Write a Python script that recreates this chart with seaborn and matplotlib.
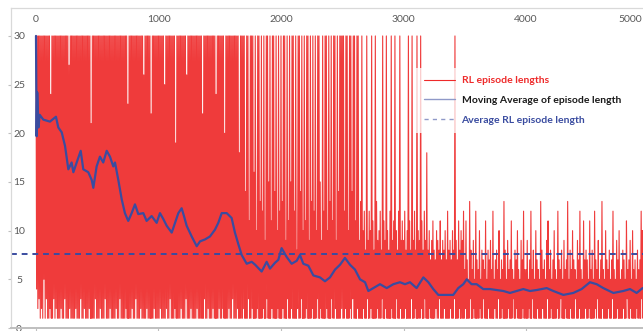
import numpy as np
import pandas as pd
import matplotlib
matplotlib.use("Agg")
import matplotlib.pyplot as plt
from matplotlib.lines import Line2D
import seaborn as sns

# ---------------- data ----------------
# RL episode lengths: for every bin of 10 episodes, the longest and the shortest
# episode seen in the picture (blocks of 500 episodes)
bin_size = 10
mx_0000 = [30,30,30,30,30,30,30,30,30,30, 30,30,24,30,30,30,30,30,30,30,
           30,30,30,30,30,30,30,27,30,30, 30,30,30,30,30,30,30,30,30,30,
           30,30,30,30,30,21,30,30,30,30]
mx_0500 = [30,30,30,30,30,30,30,30,30,30, 30,30,30,30,30,30,30,30,30,30,
           30,30,30,30,30,23,30,30,30,30, 30,30,30,30,30,30,30,30,26,30,
           30,30,30,30,22,30,30,30,30,30]
mx_1000 = [30,30,30,30,30,25,30,30,30,30, 30,30,30,30,19,30,30,30,30,30,
           30,30,30,26,30,30,30,30,30,30, 30,30,30,30,30,30,22,30,30,30,
           30,30,30,30,30,30,30,24,30,30]
mx_1500 = [30,30,30,30,20,30,30,30,30,30, 30,30,30,30,30,30,18,30,30,30,
           30,14,30,30,11,30,30,30,16,30, 10,30,30,13,30,12,30,9,30,30,
           15,30,11,30,30,14,30,10,30,12]
mx_2000 = [30,13,30,30,9,30,11,30,15,30, 30,12,30,8,30,30,14,30,10,30,
           11,30,30,9,30,13,30,12,30,10, 30,30,15,9,30,12,30,30,10,30,
           13,30,11,30,30,9,30,14,30,30]
mx_2500 = [30,30,12,30,30,10,30,30,14,30, 30,11,30,30,9,13,30,10,12,8,
           30,9,12,10,30,11,8,30,13,9, 10,12,8,30,11,9,30,10,8,12,
           30,9,11,30,10,8,12,30,9,11]
mx_3000 = [9,12,8,10,30,11,8,30,9,12, 8,30,10,9,30,11,8,12,9,18,
           8,10,7,9,11,8,7,10,9,8, 11,7,9,8,10,7,12,8,9,7,
           10,8,30,9,7,11,8,10,9,12]
mx_3500 = [6,11,7,5,13,8,6,9,5,12, 7,6,10,5,8,7,6,11,5,8,
           7,9,6,12,5,7,8,6,10,5, 7,6,13,8,5,9,6,7,11,6,
           5,8,7,10,6,5,9,7,12,6]
mx_4000 = [6,9,5,7,12,6,8,5,10,7, 6,5,13,8,6,7,5,9,11,6,
           8,5,7,10,6,5,12,7,6,8, 5,9,6,7,13,5,8,6,10,7,
           6,5,9,7,12,6,5,11,7,8]
mx_4500 = [7,5,11,6,8,5,12,7,6,9, 5,7,13,6,5,10,7,6,8,5,
           7,12,6,5,9,7,10,5,6,8, 7,5,11,6,7,9,5,10,6,7,
           5,8,6,7,12,10,6,8,5,7]

mn_0000 = [4,2,3,1,2,1,5,1,3,1, 1,2,1,1,3,1,2,1,1,1, 2,1,1,3,1,1,1,2,1,1,
           1,1,2,1,1,1,3,1,1,2, 1,1,1,2,1,1,1,1,3,1]
mn_0500 = [1,1,2,1,1,1,3,1,1,1, 2,1,1,1,1,2,1,1,3,1, 1,1,1,2,1,1,1,1,2,1,
           1,3,1,1,1,2,1,1,1,1, 2,1,1,1,1,1,2,1,1,1]
mn_1000 = [1,2,1,1,1,1,2,1,1,3, 1,1,1,2,1,1,1,1,2,1, 1,1,3,1,1,1,2,1,1,1,
           1,2,1,1,1,1,1,3,1,1, 2,1,1,1,2,1,1,1,1,2]
mn_1500 = [1,1,2,1,1,1,1,2,1,1, 3,1,1,1,2,1,1,1,1,2, 1,1,1,3,1,1,2,1,1,1,
           2,1,1,1,1,2,1,1,3,1, 1,1,2,1,1,1,1,2,1,1]
mn_2000 = [1,2,1,1,1,3,1,1,2,1, 1,1,1,2,1,1,3,1,1,1, 2,1,1,1,1,2,1,1,1,3,
           1,1,2,1,1,1,1,2,1,1, 1,3,1,1,2,1,1,1,1,2]
mn_2500 = [1,1,2,1,1,1,2,1,3,1, 1,1,2,1,1,1,1,2,1,1, 3,1,1,2,1,1,1,1,2,1,
           1,1,3,1,1,2,1,1,1,1, 2,1,1,1,3,1,1,2,1,1]
mn_3000 = [1,2,1,1,1,1,3,1,1,2, 1,1,1,1,2,1,1,3,1,1, 1,2,1,1,1,1,2,1,1,3,
           1,1,1,2,1,1,1,1,2,1, 1,3,1,1,1,2,1,1,1,1]
mn_3500 = [2,1,1,1,3,1,1,2,1,1, 1,1,2,1,1,3,1,1,1,2, 1,1,1,1,2,1,1,3,1,1,
           2,1,1,1,1,2,1,1,1,3, 1,1,2,1,1,1,1,2,1,1]
mn_4000 = [1,1,2,1,1,3,1,1,1,2, 1,1,1,2,1,1,1,3,1,1, 2,1,1,1,1,2,1,1,3,1,
           1,1,2,1,1,1,2,1,1,1, 3,1,1,2,1,1,1,1,2,1]
mn_4500 = [1,2,1,1,1,1,2,1,3,1, 1,1,2,1,1,1,1,2,1,1, 3,1,1,1,2,1,1,1,1,2,
           1,1,3,1,1,2,1,1,1,1, 2,1,1,1,3,1,1,2,1,1]

# moving average of the episode length (episode, value)
ma_episode = [0, 5, 10, 20, 30, 60, 114, 163, 182, 210, 237, 264, 291, 305, 332, 365, 386, 427,
              455, 468, 495, 522, 549, 577, 604, 631, 645, 672, 700, 726, 753, 781, 808, 835,
              876, 903, 944, 985, 1012, 1039, 1067, 1108, 1135, 1162, 1189, 1208, 1230, 1271,
              1312, 1339, 1380, 1420, 1461, 1488, 1516, 1557, 1597, 1624, 1652, 1679, 1720,
              1761, 1789, 1842, 1883, 1910, 1951, 1978, 2005, 2046, 2087, 2128, 2155, 2182,
              2223, 2264, 2318, 2359, 2400, 2441, 2482, 2522, 2563, 2604, 2645, 2686, 2713,
              2754, 2808, 2863, 2917, 2971, 3012, 3053, 3107, 3162, 3203, 3243, 3284, 3352,
              3406, 3447, 3488, 3516, 3556, 3597, 3651, 3706, 3760, 3815, 3869, 3924, 3978,
              4032, 4087, 4169, 4223, 4305, 4386, 4454, 4522, 4577, 4631, 4713, 4794, 4849,
              4903, 4952, 5000]
ma_value = [30.0, 19.7, 24.2, 20.6, 21.9, 21.4, 21.2, 21.7, 20.6, 20.1, 18.7, 16.3, 17.0, 16.0,
            17.0, 18.2, 16.3, 16.0, 15.2, 14.4, 16.6, 17.6, 17.0, 18.2, 17.6, 16.6, 17.0, 15.2,
            13.2, 11.8, 11.0, 11.8, 12.7, 11.7, 11.8, 11.0, 11.5, 10.8, 11.8, 11.2, 10.5, 9.8,
            10.8, 11.8, 12.3, 11.5, 10.5, 9.4, 8.4, 8.9, 9.1, 9.4, 10.1, 10.8, 11.8, 11.8, 11.3,
            9.8, 8.6, 7.5, 6.6, 6.8, 6.5, 5.8, 6.8, 6.1, 6.7, 7.0, 8.2, 7.3, 6.6, 6.9, 7.5, 6.6,
            6.4, 5.4, 5.2, 4.8, 5.2, 6.0, 6.5, 7.2, 6.5, 6.0, 5.0, 4.7, 3.8, 4.1, 4.5, 4.1, 4.5,
            4.7, 4.5, 4.7, 4.1, 5.2, 4.7, 4.0, 3.4, 3.4, 3.4, 4.1, 4.5, 5.0, 4.5, 4.5, 4.0, 4.0,
            3.9, 3.8, 3.6, 3.8, 4.0, 3.8, 3.9, 4.1, 3.8, 3.4, 3.6, 4.0, 4.7, 4.5, 4.1, 3.6, 3.8,
            4.0, 3.6, 4.1, 4.0]

avg_length = 7.55

x_ticks = [0, 1000, 2000, 3000, 4000]
x_tick_labels = ["0", "1000", "2000", "3000", "4000"]
last_tick_label = "5000"
y_ticks = [0, 5, 10, 15, 20, 25, 30]

legend_labels = ["RL episode lengths", "Moving Average of episode length",
                 "Average RL episode length"]

# ---------------- build tables ----------------
bin_max = (mx_0000 + mx_0500 + mx_1000 + mx_1500 + mx_2000 +
           mx_2500 + mx_3000 + mx_3500 + mx_4000 + mx_4500)
bin_min = (mn_0000 + mn_0500 + mn_1000 + mn_1500 + mn_2000 +
           mn_2500 + mn_3000 + mn_3500 + mn_4000 + mn_4500)
n_bins = len(bin_max)
bin_start = np.arange(n_bins) * bin_size
ep = np.column_stack([bin_start, bin_start + bin_size // 2]).ravel()
val = np.column_stack([bin_max, bin_min]).ravel()
df_len = pd.DataFrame({"episode": ep, "length": val})
df_ma = pd.DataFrame({"episode": ma_episode, "ma": ma_value})

# ---------------- style ----------------
sns.set_theme(style="white")
plt.rcParams["font.family"] = ["Lato", "DejaVu Sans"]

RED = "#ee2a2a"
BLUE = "#3a4ca0"
TICK_COL = "#595959"

W, H = 643, 331
fig = plt.figure(figsize=(W / 100, H / 100), dpi=100)
ax = fig.add_axes([11 / W, 1 - 328 / H, 632 / W, 320 / H])

sns.lineplot(data=df_len, x="episode", y="length", ax=ax, color=RED,
             linewidth=0.8, alpha=0.92, estimator=None, sort=False)
sns.lineplot(data=df_ma, x="episode", y="ma", ax=ax, color=BLUE,
             linewidth=1.6, estimator=None, sort=False)
ax.axhline(avg_length, color=BLUE, linewidth=1.4, linestyle=(0, (3, 2.5)))

ax.set_xlim(-204, 4955)
ax.set_ylim(0, 32.87)
ax.set_xlabel("")
ax.set_ylabel("")

ax.set_xticks(x_ticks)
ax.set_xticklabels(x_tick_labels)
ax.set_yticks(y_ticks)
ax.tick_params(axis="x", bottom=True, top=False, labelbottom=False, labeltop=True,
               direction="out", length=2, width=0.8, color="#bfbfbf",
               pad=-13.5, labelsize=7.5, labelcolor=TICK_COL)
ax.tick_params(axis="y", left=True, right=False, direction="out", length=2,
               width=0.8, color="#bfbfbf", pad=-7.8, labelsize=7.5,
               labelcolor=TICK_COL)
for lab in ax.get_yticklabels():
    lab.set_horizontalalignment("center")

ax.text(630, H - 20, last_tick_label, transform=None, fontsize=7.5, color=TICK_COL,
        ha="center", va="center")

for side in ["left", "top"]:
    ax.spines[side].set_color("#d9d9d9")
    ax.spines[side].set_linewidth(0.9)
ax.spines["bottom"].set_color("#bfbfbf")
ax.spines["bottom"].set_linewidth(1.4)
ax.spines["right"].set_visible(False)

handles = [Line2D([], [], color=RED, linewidth=0.8),
           Line2D([], [], color="#8f99c8", linewidth=1.0),
           Line2D([], [], color="#8f99c8", linewidth=1.0, linestyle=(0, (3, 3)))]
leg = ax.legend(handles, legend_labels, loc="upper left",
                bbox_to_anchor=(0.637, 0.82), frameon=True,
                handlelength=3.0, handletextpad=0.6, labelspacing=1.0,
                borderpad=0.5, prop={"weight": "bold", "size": 7.5})
leg.get_frame().set_facecolor("white")
leg.get_frame().set_alpha(0.75)
leg.get_frame().set_edgecolor("none")
leg.get_frame().set_boxstyle("square")
for txt, col in zip(leg.get_texts(), [RED, "#1a1a1a", BLUE]):
    txt.set_color(col)

fig.savefig("out.png", dpi=100)
